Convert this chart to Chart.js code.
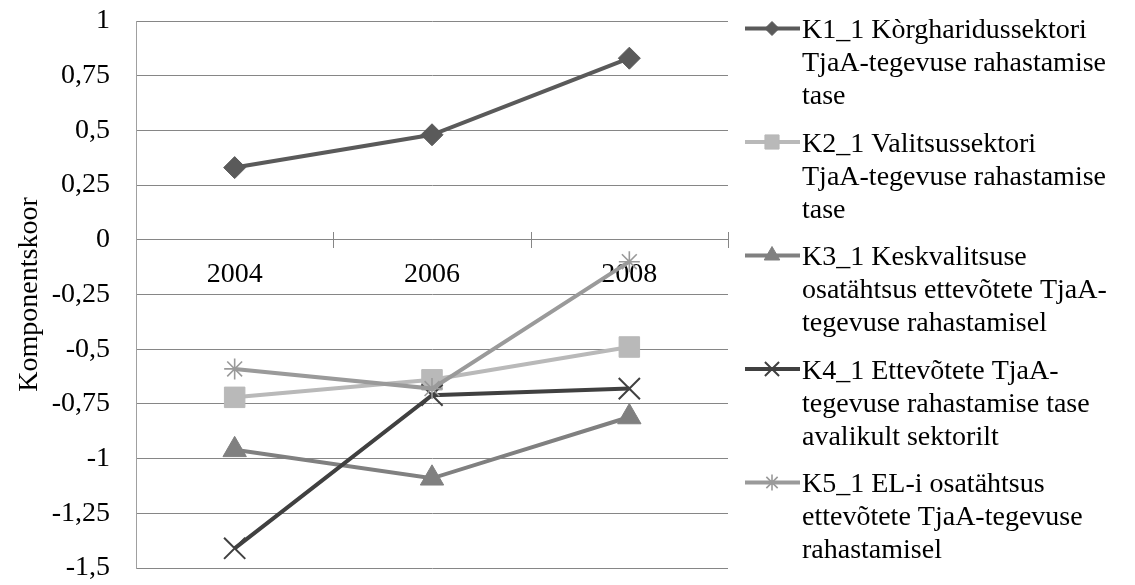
<!DOCTYPE html>
<html>
<head>
<meta charset="utf-8">
<script src="https://cdn.jsdelivr.net/npm/chart.js@4.4.1/dist/chart.umd.min.js"></script>
<style>
  html, body { margin: 0; padding: 0; background: #ffffff; }
  #wrap { width: 1135px; height: 585px; position: relative; }
</style>
</head>
<body>
<div id="wrap"><canvas id="c" width="1135" height="585"></canvas></div>
<script>
// Categories (years)
const years = ['2004', '2006', '2008'];

// Component scores per series
const k1 = [0.33, 0.48, 0.83];
const k2 = [-0.72, -0.64, -0.49];
const k3 = [-0.96, -1.09, -0.81];
const k4 = [-1.41, -0.71, -0.68];
const k5 = [-0.59, -0.68, -0.10];

// Legend text, one array of lines per series
const seriesLabels = [
  ['K1_1 Kòrgharidussektori', 'TjaA-tegevuse rahastamise', 'tase'],
  ['K2_1 Valitsussektori', 'TjaA-tegevuse rahastamise', 'tase'],
  ['K3_1 Keskvalitsuse', 'osatähtsus ettevõtete TjaA-', 'tegevuse rahastamisel'],
  ['K4_1 Ettevõtete TjaA-', 'tegevuse rahastamise tase', 'avalikult sektorilt'],
  ['K5_1 EL-i osatähtsus', 'ettevõtete TjaA-tegevuse', 'rahastamisel']
];

// Y axis range and step
const yMin = -1.5, yMax = 1, yStep = 0.25;
const yTitle = 'Komponentskoor';

const FONT = '"Liberation Serif", "Times New Roman", serif';
const GRID = '#868686';

const styles = [
  { color: '#5a5a5a', point: 'rectRot', r: 11, lr: 7, bw: 1 },
  { color: '#b9b9b9', point: 'rect', r: 14.5, lr: 10, bw: 1 },
  { color: '#808080', point: 'triangle', r: 13.5, lr: 9, bw: 1 },
  { color: '#404040', point: 'crossRot', r: 15, lr: 10, bw: 2 },
  { color: '#9a9a9a', point: 'star', r: 10.5, lr: 8, bw: 1.6 }
];
const values = [k1, k2, k3, k4, k5];

const datasets = values.map((v, i) => ({
  label: seriesLabels[i].join(' '),
  data: v,
  borderColor: styles[i].color,
  backgroundColor: styles[i].color,
  borderWidth: 4,
  pointStyle: styles[i].point,
  pointRadius: styles[i].r,
  pointHoverRadius: styles[i].r,
  pointBackgroundColor: styles[i].color,
  pointBorderColor: styles[i].color,
  pointBorderWidth: styles[i].bw,
  tension: 0,
  fill: false,
  order: values.length - i
}));

// Short cross marks on the category axis between the years
const crossTicks = {
  id: 'crossTicks',
  afterDatasetsDraw(chart) {
    const { ctx, scales: { x, y } } = chart;
    const y0 = Math.round(y.getPixelForValue(0));
    ctx.save();
    ctx.strokeStyle = GRID;
    ctx.lineWidth = 1;
    for (let i = 1; i <= years.length; i++) {
      const px = Math.round(x.getPixelForValue(i - 0.5)) + 0.5;
      ctx.beginPath();
      ctx.moveTo(px, y0 - 8);
      ctx.lineTo(px, y0 + 8);
      ctx.stroke();
    }
    ctx.restore();
  }
};

// Legend on the right: line sample with marker, wrapped text
const sideLegend = {
  id: 'sideLegend',
  afterDraw(chart) {
    const ctx = chart.ctx;
    const lineH = 33, entryH = 113.5, firstBase = 38;
    const textX = 802, lineX0 = 745, lineX1 = 800, markX = 772;
    ctx.save();
    seriesLabels.forEach((lines, i) => {
      const st = styles[i];
      const base = firstBase + i * entryH;
      const my = base - 9.5;
      ctx.strokeStyle = st.color;
      ctx.lineWidth = 4;
      ctx.beginPath();
      ctx.moveTo(lineX0, my);
      ctx.lineTo(lineX1, my);
      ctx.stroke();
      ctx.fillStyle = st.color;
      ctx.strokeStyle = st.color;
      ctx.lineWidth = st.bw;
      Chart.helpers.drawPoint(ctx, { pointStyle: st.point, radius: st.lr, borderWidth: st.bw, rotation: 0 }, markX, my);
      ctx.fillStyle = '#000000';
      ctx.font = '28px ' + FONT;
      ctx.textBaseline = 'alphabetic';
      ctx.textAlign = 'left';
      lines.forEach((t, k) => ctx.fillText(t, textX, base + k * lineH));
    });
    ctx.restore();
  }
};

const fmt = v => String(Math.round(v * 100) / 100).replace('.', ',');

new Chart(document.getElementById('c'), {
  type: 'line',
  data: { labels: years, datasets },
  plugins: [crossTicks, sideLegend],
  options: {
    responsive: false,
    animation: false,
    layout: { padding: { top: 21, bottom: 14, left: 0, right: 407 } },
    plugins: { legend: { display: false }, tooltip: { enabled: false } },
    scales: {
      x: {
        type: 'category',
        position: { y: 0 },
        offset: true,
        z: 1,
        grid: { display: true, drawOnChartArea: false, drawTicks: false, offset: true },
        border: { display: true, color: GRID, width: 1 },
        ticks: { color: '#000000', font: { family: FONT, size: 28 }, padding: 18, maxRotation: 0 }
      },
      y: {
        min: yMin,
        max: yMax,
        afterFit(scale) {
          scale.width = 136;
          scale.paddingTop = 0;
          scale.paddingBottom = 0;
        },
        grid: { color: GRID, lineWidth: 1, drawTicks: false },
        border: { display: true, color: '#a0a0a0', width: 1 },
        ticks: {
          stepSize: yStep,
          padding: 26,
          color: '#000000',
          font: { family: FONT, size: 28 },
          callback: v => fmt(v)
        },
        title: {
          display: true,
          text: yTitle,
          color: '#000000',
          font: { family: FONT, size: 28 },
          padding: { top: 13, bottom: 0 }
        }
      }
    }
  }
});
</script>
</body>
</html>
